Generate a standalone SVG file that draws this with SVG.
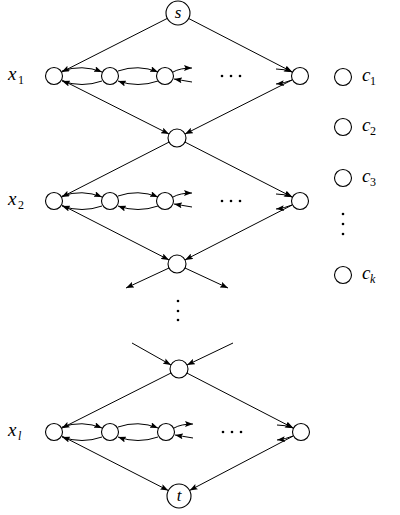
<svg xmlns="http://www.w3.org/2000/svg" width="400" height="515" viewBox="0 0 400 515">
<style>
.n{fill:#fff;stroke:#000;stroke-width:1.1}
.e{fill:none;stroke:#000;stroke-width:1}
.m{font-family:'Liberation Serif','DejaVu Serif',serif;font-style:italic;fill:#000}
.sub{font-family:'Liberation Serif','DejaVu Serif',serif;fill:#000;font-size:12px}
.d{fill:#000}
</style>
<defs>
<marker id="ah" viewBox="0 0 8 6" refX="8" refY="3" markerWidth="8" markerHeight="6" markerUnits="userSpaceOnUse" orient="auto">
<path d="M0,0 L8,3 L0,6 L1.5,3 z" fill="#000"/>
</marker>
</defs>
<rect width="400" height="515" fill="#fff"/>
<g id="connectors">
<path class="e" marker-end="url(#ah)" d="M167.3,18.4 L61.6,72.1"/>
<path class="e" marker-end="url(#ah)" d="M188.7,18.5 L292.4,72.1"/>
<path class="e" marker-end="url(#ah)" d="M61.6,79.8 L169,134"/>
<path class="e" marker-end="url(#ah)" d="M292.4,79.8 L185,134"/>
<path class="e" marker-end="url(#ah)" d="M169,142.1 L61.6,197.1"/>
<path class="e" marker-end="url(#ah)" d="M185,142.1 L292.4,197.1"/>
<path class="e" marker-end="url(#ah)" d="M61.6,204.9 L169,259.9"/>
<path class="e" marker-end="url(#ah)" d="M292.4,204.9 L185,259.9"/>
<path class="e" marker-end="url(#ah)" d="M169,268 L126,288"/>
<path class="e" marker-end="url(#ah)" d="M185,268 L228,288"/>
<path class="e" marker-end="url(#ah)" d="M132,343 L171,365"/>
<path class="e" marker-end="url(#ah)" d="M233,343 L187,365"/>
<path class="e" marker-end="url(#ah)" d="M171,373 L61.6,428.2"/>
<path class="e" marker-end="url(#ah)" d="M187,373.1 L293.4,428.1"/>
<path class="e" marker-end="url(#ah)" d="M61.6,435.9 L168.3,490.5"/>
<path class="e" marker-end="url(#ah)" d="M293.5,435.9 L189.6,490.4"/>
<g id="row1-edges">
<path class="e" marker-end="url(#ah)" d="M62,71 Q82,64 102,72"/>
<path class="e" marker-end="url(#ah)" d="M102,81 Q82,88 62,81"/>
<path class="e" marker-end="url(#ah)" d="M118,71 Q138,64 158,72"/>
<path class="e" marker-end="url(#ah)" d="M158,81 Q138,88 118,81"/>
<path class="e" marker-end="url(#ah)" d="M173,72 Q180,68 192,68"/>
<path class="e" marker-end="url(#ah)" d="M192,82 Q180,80 174,79"/>
<path class="e" marker-end="url(#ah)" d="M276,69 Q285,69 292,72"/>
<path class="e" marker-end="url(#ah)" d="M292,80 Q285,83 276,84"/>
</g>
<g id="row2-edges">
<path class="e" marker-end="url(#ah)" d="M62,196 Q82,189 102,197"/>
<path class="e" marker-end="url(#ah)" d="M102,206 Q82,213 62,206"/>
<path class="e" marker-end="url(#ah)" d="M118,196 Q138,189 158,197"/>
<path class="e" marker-end="url(#ah)" d="M158,206 Q138,213 118,206"/>
<path class="e" marker-end="url(#ah)" d="M173,197 Q180,193 192,193"/>
<path class="e" marker-end="url(#ah)" d="M192,207 Q180,205 174,204"/>
<path class="e" marker-end="url(#ah)" d="M276,194 Q285,194 292,197"/>
<path class="e" marker-end="url(#ah)" d="M292,205 Q285,208 276,209"/>
</g>
<g id="rowl-edges">
<path class="e" marker-end="url(#ah)" d="M62,427 Q82,420 102,428"/>
<path class="e" marker-end="url(#ah)" d="M102,437 Q82,444 62,437"/>
<path class="e" marker-end="url(#ah)" d="M118,427 Q138,420 158,428"/>
<path class="e" marker-end="url(#ah)" d="M158,437 Q138,444 118,437"/>
<path class="e" marker-end="url(#ah)" d="M174,428 Q181,424 193,424"/>
<path class="e" marker-end="url(#ah)" d="M193,438 Q181,436 175,435"/>
<path class="e" marker-end="url(#ah)" d="M277,425 Q286,425 293,428"/>
<path class="e" marker-end="url(#ah)" d="M293,436 Q286,439 277,440"/>
</g>
</g>
<g id="s"><circle class="n" cx="178" cy="13" r="12"/><text class="m" x="178" y="18" font-size="17" text-anchor="middle">s</text></g>
<g id="t"><circle class="n" cx="179" cy="496" r="12"/><text class="m" x="179" y="501" font-size="17" text-anchor="middle">t</text></g>
<g id="m1"><circle class="n" cx="177" cy="138" r="9"/></g>
<g id="m2"><circle class="n" cx="177" cy="264" r="9"/></g>
<g id="m3"><circle class="n" cx="179" cy="369" r="9"/></g>
<g id="row1">
<text class="m" x="8" y="80" font-size="19">x</text><text class="sub" x="18" y="84">1</text>
<g id="a1"><circle class="n" cx="54" cy="76" r="8.5"/></g>
<g id="b1"><circle class="n" cx="110" cy="76" r="8.5"/></g>
<g id="c1n"><circle class="n" cx="165" cy="76" r="8.5"/></g>
<g id="d1"><circle class="n" cx="300" cy="76" r="8.5"/></g>
<circle class="d" cx="222" cy="76" r="1.3"/><circle class="d" cx="231" cy="76" r="1.3"/><circle class="d" cx="240" cy="76" r="1.3"/>
</g>
<g id="row2">
<text class="m" x="8" y="205" font-size="19">x</text><text class="sub" x="18" y="209">2</text>
<g id="a2"><circle class="n" cx="54" cy="201" r="8.5"/></g>
<g id="b2"><circle class="n" cx="110" cy="201" r="8.5"/></g>
<g id="c2n"><circle class="n" cx="165" cy="201" r="8.5"/></g>
<g id="d2"><circle class="n" cx="300" cy="201" r="8.5"/></g>
<circle class="d" cx="222" cy="201" r="1.3"/><circle class="d" cx="231" cy="201" r="1.3"/><circle class="d" cx="240" cy="201" r="1.3"/>
</g>
<g id="rowl">
<text class="m" x="8" y="436" font-size="19">x</text><text class="m" x="18" y="440" font-size="12">l</text>
<g id="a3"><circle class="n" cx="54" cy="432" r="8.5"/></g>
<g id="b3"><circle class="n" cx="110" cy="432" r="8.5"/></g>
<g id="c3n"><circle class="n" cx="166" cy="432" r="8.5"/></g>
<g id="d3"><circle class="n" cx="301" cy="432" r="8.5"/></g>
<circle class="d" cx="223" cy="432" r="1.3"/><circle class="d" cx="232" cy="432" r="1.3"/><circle class="d" cx="241" cy="432" r="1.3"/>
</g>
<g id="vdots">
<circle class="d" cx="178" cy="301" r="1.3"/><circle class="d" cx="178" cy="311" r="1.3"/><circle class="d" cx="178" cy="320" r="1.3"/>
</g>
<g id="clauses">
<g id="c1"><circle class="n" cx="343" cy="77" r="8.5"/><text class="m" x="362" y="81" font-size="19">c</text><text class="sub" x="370" y="85">1</text></g>
<g id="c2"><circle class="n" cx="343" cy="127" r="8.5"/><text class="m" x="362" y="131" font-size="19">c</text><text class="sub" x="370" y="135">2</text></g>
<g id="c3"><circle class="n" cx="343" cy="178" r="8.5"/><text class="m" x="362" y="182" font-size="19">c</text><text class="sub" x="370" y="186">3</text></g>
<circle class="d" cx="343" cy="214" r="1.3"/><circle class="d" cx="343" cy="224" r="1.3"/><circle class="d" cx="343" cy="234" r="1.3"/>
<g id="ck"><circle class="n" cx="343" cy="275" r="8.5"/><text class="m" x="362" y="279" font-size="19">c</text><text class="m" x="370" y="283" font-size="12">k</text></g>
</g>
</svg>
